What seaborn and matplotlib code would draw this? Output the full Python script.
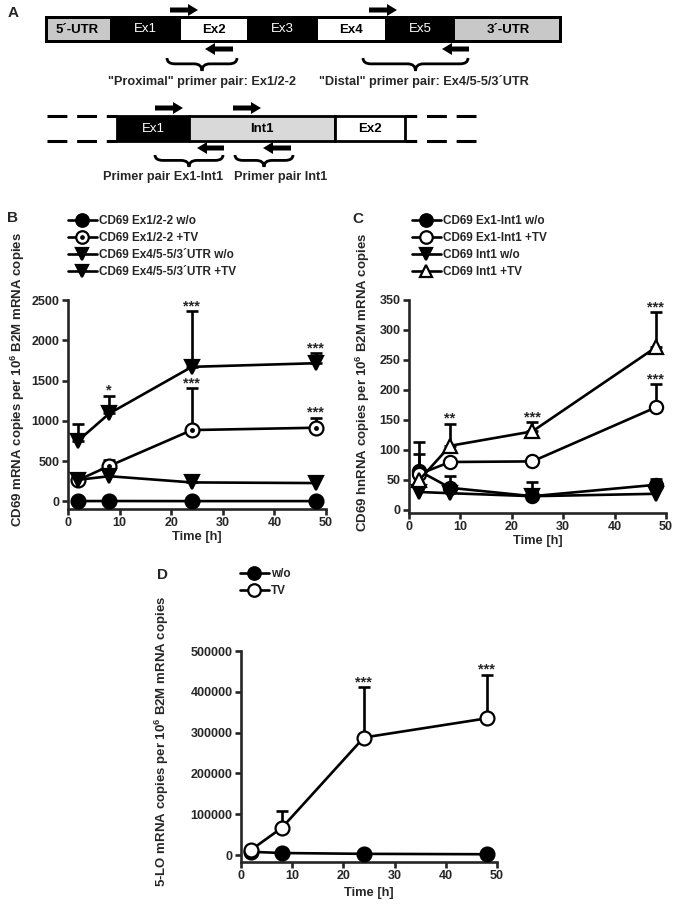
import numpy as np
import pandas as pd
import seaborn as sns
import matplotlib.pyplot as plt
from matplotlib.patches import Rectangle, FancyArrow, PathPatch
from matplotlib.path import Path
from matplotlib.lines import Line2D
from matplotlib.legend_handler import HandlerTuple

sns.set_style("ticks")
plt.rcParams['font.family'] = ['Liberation Sans', 'DejaVu Sans']
plt.rcParams['font.weight'] = 'bold'
plt.rcParams['axes.labelweight'] = 'bold'
plt.rcParams['mathtext.fontset'] = 'custom'
plt.rcParams['mathtext.rm'] = 'Liberation Sans:bold'
plt.rcParams['mathtext.bf'] = 'Liberation Sans:bold'
plt.rcParams['mathtext.default'] = 'bf'

W, H = 676, 905

# ---- data -------------------------------------------------------------
TIME = [2, 8, 24, 48]
X_TICKS = [0, 10, 20, 30, 40, 50]

# panel B: CD69 mRNA
B_LABELS = ['CD69 Ex1/2-2 w/o', 'CD69 Ex1/2-2 +TV',
            'CD69 Ex4/5-5/3´UTR w/o', 'CD69 Ex4/5-5/3´UTR +TV']
b_ex12_wo = [3, 4, 3, 3]
b_ex12_tv = [265, 440, 885, 914]
b_ex12_tv_top = [np.nan, 510, 1408, 1038]
b_ex45_wo = [268, 312, 235, 227]
b_ex45_wo_top = [np.nan, np.nan, 330, np.nan]
b_ex45_tv = [755, 1091, 1670, 1715]
b_ex45_tv_top = [955, 1310, 2360, 1841]
b_star_x = [8, 24, 24, 48, 48]
b_star_y = [1310, 2360, 1408, 1841, 1038]
b_star_txt = ['*', '***', '***', '***', '***']
B_YTICKS = [0, 500, 1000, 1500, 2000, 2500]

# panel C: CD69 hnRNA
C_LABELS = ['CD69 Ex1-Int1 w/o', 'CD69 Ex1-Int1 +TV', 'CD69 Int1 w/o', 'CD69 Int1 +TV']
c_ex1int1_wo = [65, 37, 23, 42]
c_ex1int1_wo_top = [114, 57, 46, 51]
c_ex1int1_tv = [60, 80, 81, 171]
c_ex1int1_tv_top = [94, np.nan, np.nan, 210]
c_int1_wo = [30, 28, 23, 27]
c_int1_tv = [50, 107, 131, 271]
c_int1_tv_top = [np.nan, 144, 146, 330]
c_star_x = [8, 24, 48, 48]
c_star_y = [144, 146, 330, 210]
c_star_txt = ['**', '***', '***', '***']
C_YTICKS = [0, 50, 100, 150, 200, 250, 300, 350]

# panel D: 5-LO mRNA
D_LABELS = ['w/o', 'TV']
d_wo = [8000, 5000, 3000, 2000]
d_tv = [13000, 67000, 288000, 335000]
d_tv_top = [np.nan, 108000, 412000, 442000]
d_star_x = [24, 48]
d_star_y = [412000, 442000]
d_star_txt = ['***', '***']
D_YTICKS = [0, 100000, 200000, 300000, 400000, 500000]

# panel A: gene scheme
GENE_SEGMENTS = ['5´-UTR', 'Ex1', 'Ex2', 'Ex3', 'Ex4', 'Ex5', '3´-UTR']
GENE_EDGES = [45, 110, 181, 247, 318, 385, 455, 562]
GENE_FILL = ['#c8c8c8', 'black', 'white', 'black', 'white', 'black', '#c8c8c8']
INTRON_SEGMENTS = ['Ex1', 'Int1', 'Ex2']
INTRON_EDGES = [117, 189, 335, 405]
INTRON_FILL = ['black', '#d9d9d9', 'white']

LW = 1.9
FS = 9


def px_axes(fig, left, top, right, bottom):
    return fig.add_axes([left / W, 1 - bottom / H, (right - left) / W, (bottom - top) / H])


def draw_series(ax, y, top, marker, face, ms=10, z=3, dot=False):
    df = pd.DataFrame({'t': TIME, 'v': y})
    sns.lineplot(data=df, x='t', y='v', ax=ax, color='black', lw=LW, marker=marker,
                 markersize=ms, markerfacecolor=face, markeredgecolor='black',
                 markeredgewidth=1.6, zorder=z, clip_on=False, legend=False)
    if dot:
        ax.plot(TIME, y, ls='none', marker='o', ms=2.5, color='black', zorder=z + 0.1, clip_on=False)
    if top is not None:
        t = np.array(TIME, dtype=float)
        v = np.array(y, dtype=float)
        err = np.array(top, dtype=float) - v
        m = ~np.isnan(err)
        ax.errorbar(t[m], v[m], yerr=[np.zeros(m.sum()), err[m]], fmt='none', ecolor='black',
                    elinewidth=LW, capsize=4, capthick=LW, zorder=z - 0.5, clip_on=False)


def handle(marker, face, ms=9.5, dot=False):
    h = Line2D([], [], color='black', lw=LW, marker=marker, ms=ms, mfc=face, mec='black', mew=1.6)
    if dot:
        return (h, Line2D([], [], ls='none', marker='o', ms=2.5, color='black'))
    return h


def style_axes(ax, ylim, yticks, ylabel, xlab_y, ylab_x, ylab_y):
    ax.set_xlim(0, 50)
    ax.set_ylim(*ylim)
    ax.set_xticks(X_TICKS)
    ax.set_yticks(yticks)
    sns.despine(ax=ax)
    for s in ['left', 'bottom']:
        ax.spines[s].set_linewidth(LW)
    ax.tick_params(direction='out', length=4, width=LW, labelsize=FS, pad=2)
    ax.set_facecolor('none')
    ax.set_xlabel('Time [h]', fontsize=9.3)
    ax.set_ylabel(ylabel, fontsize=9.5)
    ax.xaxis.set_label_coords(0.5, xlab_y)
    ax.yaxis.set_label_coords(ylab_x, ylab_y)


def stars(ax, xs, ys, txt):
    for x, y, s in zip(xs, ys, txt):
        ax.annotate(s, (x, y), xytext=(0, -1.5), textcoords='offset points', ha='center',
                    va='bottom', fontsize=10.5, fontweight='bold', annotation_clip=False)


def legend(fig, handles, labels, x, y):
    fig.legend(handles, labels, loc='upper left', bbox_to_anchor=(x / W, 1 - y / H),
               bbox_transform=fig.transFigure, frameon=False, fontsize=8.5,
               handlelength=2.45, handletextpad=0.2, labelspacing=0.42, borderpad=0,
               borderaxespad=0, markerscale=0.95,
               handler_map={tuple: HandlerTuple(ndivide=1)})


def brace(ax, x0, x1, y0, h):
    xc = (x0 + x1) / 2
    ym = y0 + h * 0.45
    r = min(8, (x1 - x0) / 6)
    verts = [(x0, y0), (x0, ym), (x0 + r, ym), (xc - r, ym), (xc, ym), (xc, y0 + h),
             (xc, ym), (xc + r, ym), (x1 - r, ym), (x1, ym), (x1, y0)]
    codes = [Path.MOVETO, Path.CURVE3, Path.CURVE3, Path.LINETO, Path.CURVE3, Path.CURVE3,
             Path.CURVE3, Path.CURVE3, Path.LINETO, Path.CURVE3, Path.CURVE3]
    ax.add_patch(PathPatch(Path(verts, codes), fill=False, lw=2.0, ec='black'))


def arrow(ax, x0, x1, y):
    ax.add_patch(FancyArrow(x0, y, x1 - x0, 0, width=5, head_width=12, head_length=10,
                            length_includes_head=True, color='black', lw=0))


fig = plt.figure(figsize=(W / 100, H / 100), dpi=100)

# ---- panel A (pixel coordinates) --------------------------------------
axA = fig.add_axes([0, 0, 1, 1])
axA.set_xlim(0, W)
axA.set_ylim(H, 0)
axA.axis('off')

axA.add_patch(Rectangle((GENE_EDGES[0], 16), GENE_EDGES[-1] - GENE_EDGES[0], 27, color='black', lw=0))
for name, l, r, fill in zip(GENE_SEGMENTS, GENE_EDGES[:-1], GENE_EDGES[1:], GENE_FILL):
    if fill != 'black':
        l2 = l + 3 if l == GENE_EDGES[0] else l
        r2 = r - 3 if r == GENE_EDGES[-1] else r
        axA.add_patch(Rectangle((l2, 19), r2 - l2, 21, color=fill, lw=0))
        axA.text((l + r) / 2, 30, name, ha='center', va='center', fontsize=9.5, color='black')
    else:
        axA.text((l + r) / 2, 29, name, ha='center', va='center', fontsize=9.5,
                 color='white', fontweight='normal')

arrow(axA, 170, 198, 10)
arrow(axA, 369, 397, 10)
arrow(axA, 233, 205, 49)
arrow(axA, 469, 442, 49)
brace(axA, 167, 237, 58, 13)
brace(axA, 363, 468, 58, 13)
axA.text(202, 82, '"Proximal" primer pair: Ex1/2-2', ha='center', va='center', fontsize=9.2)
axA.text(424, 82, '"Distal" primer pair: Ex4/5-5/3´UTR', ha='center', va='center', fontsize=9.2)

for name, l, r, fill in zip(INTRON_SEGMENTS, INTRON_EDGES[:-1], INTRON_EDGES[1:], INTRON_FILL):
    axA.add_patch(Rectangle((l, 116), r - l, 25, fc=fill, ec='black', lw=2.0))
    col = 'white' if fill == 'black' else 'black'
    axA.text((l + r) / 2, 129, name, ha='center', va='center', fontsize=9.5, color=col,
             fontweight='normal' if fill == 'black' else 'bold')
for yy in [116, 141]:
    axA.plot([47, 117], [yy, yy], color='black', lw=2.2, ls=(0, (6.5, 3.2)), solid_capstyle='butt')
    axA.plot([476, 405], [yy, yy], color='black', lw=2.2, ls=(0, (6.5, 3.2)), solid_capstyle='butt')
arrow(axA, 155, 183, 108)
arrow(axA, 233, 261, 108)
arrow(axA, 224, 197, 148)
arrow(axA, 291, 263, 148)
brace(axA, 155, 223, 155, 12)
brace(axA, 235, 293, 155, 12)
axA.text(163, 177, 'Primer pair Ex1-Int1', ha='center', va='center', fontsize=9.2)
axA.text(281, 177, 'Primer pair Int1', ha='center', va='center', fontsize=9.2)

for lab, x, y in [('A', 13, 13), ('B', 13, 218), ('C', 358, 219), ('D', 163, 575)]:
    axA.text(x, y, lab, ha='center', va='center', fontsize=11)

# ---- panel B ------------------------------------------------------------
axB = px_axes(fig, 68, 300, 326, 509)
draw_series(axB, b_ex12_wo, None, 'o', 'black', z=3)
draw_series(axB, b_ex12_tv, b_ex12_tv_top, 'o', 'white', z=4, dot=True)
draw_series(axB, b_ex45_wo, b_ex45_wo_top, 'v', 'black', ms=10.5, z=5)
draw_series(axB, b_ex45_tv, b_ex45_tv_top, 'v', 'black', ms=10.5, z=6)
stars(axB, b_star_x, b_star_y, b_star_txt)
style_axes(axB, (-95, 2500), B_YTICKS, 'CD69 mRNA copies per 10$^{6}$ B2M mRNA copies',
           -0.105, -0.16, 0.62)
legend(fig, [handle('o', 'black'), handle('o', 'white', dot=True), handle('v', 'black'),
             handle('v', 'black')], B_LABELS, 68, 215)

# ---- panel C ------------------------------------------------------------
axC = px_axes(fig, 409, 300, 666, 513)
draw_series(axC, c_ex1int1_wo, c_ex1int1_wo_top, 'o', 'black', ms=9.5, z=3)
draw_series(axC, c_ex1int1_tv, c_ex1int1_tv_top, 'o', 'white', ms=9.5, z=4)
draw_series(axC, c_int1_wo, None, 'v', 'black', ms=9.5, z=5)
draw_series(axC, c_int1_tv, c_int1_tv_top, '^', 'white', ms=9.5, z=6)
stars(axC, c_star_x, c_star_y, c_star_txt)
style_axes(axC, (-5, 350), C_YTICKS, 'CD69 hnRNA copies per 10$^{6}$ B2M mRNA copies',
           -0.105, -0.145, 0.615)
legend(fig, [handle('o', 'black'), handle('o', 'white'), handle('v', 'black'),
             handle('^', 'white')], C_LABELS, 412, 215)

# ---- panel D ------------------------------------------------------------
axD = px_axes(fig, 241, 651, 497, 862)
draw_series(axD, d_wo, None, 'o', 'black', z=3)
draw_series(axD, d_tv, d_tv_top, 'o', 'white', z=4)
stars(axD, d_star_x, d_star_y, d_star_txt)
style_axes(axD, (-17000, 500000), D_YTICKS, '5-LO mRNA copies per 10$^{6}$ B2M mRNA copies',
           -0.12, -0.275, 0.573)
legend(fig, [handle('o', 'black'), handle('o', 'white')], D_LABELS, 240, 568)

fig.savefig('out.png', dpi=100)
